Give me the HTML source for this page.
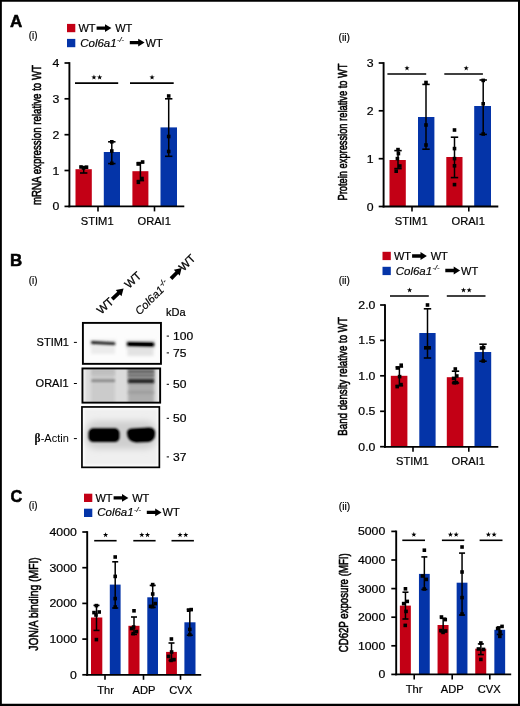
<!DOCTYPE html>
<html><head><meta charset="utf-8"><title>Figure</title>
<style>html,body{margin:0;padding:0;background:#fff}svg{display:block;will-change:transform}text{font-family:"Liberation Sans",sans-serif}</style></head>
<body>
<svg width="520" height="706" viewBox="0 0 520 706" font-family="'Liberation Sans', sans-serif" fill="#000">
<defs><filter id="b1" filterUnits="userSpaceOnUse" x="70" y="310" width="110" height="170"><feGaussianBlur stdDeviation="0.9"/></filter><filter id="b2" filterUnits="userSpaceOnUse" x="70" y="310" width="110" height="170"><feGaussianBlur stdDeviation="1.6"/></filter><filter id="b3" filterUnits="userSpaceOnUse" x="70" y="310" width="110" height="170"><feGaussianBlur stdDeviation="3"/></filter><clipPath id="c1"><rect x="82.5" y="322.5" width="78.7" height="41.5"/></clipPath><clipPath id="c2"><rect x="82.2" y="368.5" width="78.3" height="34.5"/></clipPath><clipPath id="c3"><rect x="81.8" y="406.7" width="78" height="60.8"/></clipPath></defs>
<rect x="0" y="0" width="520" height="706" fill="#fff"/>
<text transform="translate(10.00 27.20) scale(1.03 1)" font-size="16.5" text-anchor="start" font-weight="bold" stroke="#000" stroke-width="0.5">A</text>
<text transform="translate(10.00 265.70) scale(1.07 1)" font-size="15.8" text-anchor="start" font-weight="bold" stroke="#000" stroke-width="0.5">B</text>
<text transform="translate(10.40 501.70) scale(1.03 1)" font-size="15.8" text-anchor="start" font-weight="bold" stroke="#000" stroke-width="0.5">C</text>
<text x="28.80" y="39.10" font-size="10.5" text-anchor="start" textLength="8.6" lengthAdjust="spacingAndGlyphs" stroke="#000" stroke-width="0.2">(i)</text>
<text x="338.60" y="40.60" font-size="10.5" text-anchor="start" textLength="11.4" lengthAdjust="spacingAndGlyphs" stroke="#000" stroke-width="0.2">(ii)</text>
<text x="28.80" y="283.50" font-size="10.5" text-anchor="start" textLength="8.6" lengthAdjust="spacingAndGlyphs" stroke="#000" stroke-width="0.2">(i)</text>
<text x="338.80" y="284.00" font-size="10.5" text-anchor="start" textLength="11.0" lengthAdjust="spacingAndGlyphs" stroke="#000" stroke-width="0.2">(ii)</text>
<text x="28.80" y="509.30" font-size="10.5" text-anchor="start" textLength="8.6" lengthAdjust="spacingAndGlyphs" stroke="#000" stroke-width="0.2">(i)</text>
<text x="338.80" y="510.00" font-size="10.5" text-anchor="start" textLength="11.4" lengthAdjust="spacingAndGlyphs" stroke="#000" stroke-width="0.2">(ii)</text>
<rect x="67.00" y="23.90" width="8.30" height="8.30" fill="#c30015"/>
<rect x="67.00" y="38.90" width="8.30" height="8.30" fill="#0434a8"/>
<text x="78.40" y="31.90" font-size="11" text-anchor="start"  stroke="#000" stroke-width="0.2">WT</text>
<path d="M96.60 26.40H105.00V24.20L111.40 28.10L105.00 32.00V29.80H96.60Z" fill="#000"/>
<text x="115.20" y="31.90" font-size="11" text-anchor="start"  stroke="#000" stroke-width="0.2">WT</text>
<text x="80.20" y="46.60" font-size="11" font-style="italic" stroke="#000" stroke-width="0.15" textLength="36.5" lengthAdjust="spacingAndGlyphs">Col6a1</text>
<text x="117.00" y="42.20" font-size="7.5" font-style="italic" stroke="#000" stroke-width="0.15">-/-</text>
<path d="M129.80 40.90H138.20V38.70L144.60 42.60L138.20 46.50V44.30H129.80Z" fill="#000"/>
<text x="145.60" y="46.60" font-size="11" text-anchor="start"  stroke="#000" stroke-width="0.2">WT</text>
<rect x="382.50" y="251.80" width="8.30" height="8.30" fill="#c30015"/>
<rect x="382.50" y="266.80" width="8.30" height="8.30" fill="#0434a8"/>
<text x="393.90" y="259.80" font-size="11" text-anchor="start"  stroke="#000" stroke-width="0.2">WT</text>
<path d="M412.10 254.30H420.50V252.10L426.90 256.00L420.50 259.90V257.70H412.10Z" fill="#000"/>
<text x="430.70" y="259.80" font-size="11" text-anchor="start"  stroke="#000" stroke-width="0.2">WT</text>
<text x="395.70" y="274.50" font-size="11" font-style="italic" stroke="#000" stroke-width="0.15" textLength="36.5" lengthAdjust="spacingAndGlyphs">Col6a1</text>
<text x="432.50" y="270.10" font-size="7.5" font-style="italic" stroke="#000" stroke-width="0.15">-/-</text>
<path d="M445.30 268.80H453.70V266.60L460.10 270.50L453.70 274.40V272.20H445.30Z" fill="#000"/>
<text x="461.10" y="274.50" font-size="11" text-anchor="start"  stroke="#000" stroke-width="0.2">WT</text>
<rect x="84.00" y="493.70" width="8.30" height="8.30" fill="#c30015"/>
<rect x="84.00" y="508.70" width="8.30" height="8.30" fill="#0434a8"/>
<text x="95.40" y="501.70" font-size="11" text-anchor="start"  stroke="#000" stroke-width="0.2">WT</text>
<path d="M113.60 496.20H122.00V494.00L128.40 497.90L122.00 501.80V499.60H113.60Z" fill="#000"/>
<text x="132.20" y="501.70" font-size="11" text-anchor="start"  stroke="#000" stroke-width="0.2">WT</text>
<text x="97.20" y="516.40" font-size="11" font-style="italic" stroke="#000" stroke-width="0.15" textLength="36.5" lengthAdjust="spacingAndGlyphs">Col6a1</text>
<text x="134.00" y="512.00" font-size="7.5" font-style="italic" stroke="#000" stroke-width="0.15">-/-</text>
<path d="M146.80 510.70H155.20V508.50L161.60 512.40L155.20 516.30V514.10H146.80Z" fill="#000"/>
<text x="162.60" y="516.40" font-size="11" text-anchor="start"  stroke="#000" stroke-width="0.2">WT</text>
<rect x="75.50" y="169.20" width="16.30" height="37.20" fill="#c30015"/>
<rect x="103.80" y="152.00" width="16.20" height="54.40" fill="#0434a8"/>
<rect x="132.40" y="171.20" width="16.00" height="35.20" fill="#c30015"/>
<rect x="160.50" y="127.40" width="16.50" height="79.00" fill="#0434a8"/>
<line x1="69.40" y1="62.15" x2="69.40" y2="207.30" stroke="#000" stroke-width="1.9"/>
<line x1="68.45" y1="206.40" x2="184.30" y2="206.40" stroke="#000" stroke-width="1.8"/>
<line x1="64.50" y1="63.00" x2="69.40" y2="63.00" stroke="#000" stroke-width="1.7"/>
<text transform="translate(59.20 67.00) scale(1.17 1)" font-size="10.5" text-anchor="end"  stroke="#000" stroke-width="0.2">4</text>
<line x1="64.50" y1="98.80" x2="69.40" y2="98.80" stroke="#000" stroke-width="1.7"/>
<text transform="translate(59.20 102.80) scale(1.17 1)" font-size="10.5" text-anchor="end"  stroke="#000" stroke-width="0.2">3</text>
<line x1="64.50" y1="134.70" x2="69.40" y2="134.70" stroke="#000" stroke-width="1.7"/>
<text transform="translate(59.20 138.70) scale(1.17 1)" font-size="10.5" text-anchor="end"  stroke="#000" stroke-width="0.2">2</text>
<line x1="64.50" y1="170.50" x2="69.40" y2="170.50" stroke="#000" stroke-width="1.7"/>
<text transform="translate(59.20 174.50) scale(1.17 1)" font-size="10.5" text-anchor="end"  stroke="#000" stroke-width="0.2">1</text>
<line x1="64.50" y1="206.40" x2="69.40" y2="206.40" stroke="#000" stroke-width="1.7"/>
<text transform="translate(59.20 210.40) scale(1.17 1)" font-size="10.5" text-anchor="end"  stroke="#000" stroke-width="0.2">0</text>
<line x1="98.00" y1="206.40" x2="98.00" y2="211.40" stroke="#000" stroke-width="1.6"/>
<line x1="154.50" y1="206.40" x2="154.50" y2="211.40" stroke="#000" stroke-width="1.6"/>
<text x="97.20" y="224.50" font-size="11.15" text-anchor="middle"  stroke="#000" stroke-width="0.2">STIM1</text>
<text x="154.20" y="224.50" font-size="11.15" text-anchor="middle"  stroke="#000" stroke-width="0.2">ORAI1</text>
<line x1="83.70" y1="166.60" x2="83.70" y2="173.00" stroke="#000" stroke-width="1.5"/>
<line x1="80.00" y1="166.60" x2="87.40" y2="166.60" stroke="#000" stroke-width="1.6"/>
<line x1="80.00" y1="173.00" x2="87.40" y2="173.00" stroke="#000" stroke-width="1.6"/>
<rect x="79.20" y="165.20" width="3.60" height="3.60" fill="#000"/>
<rect x="84.70" y="165.40" width="3.60" height="3.60" fill="#000"/>
<rect x="81.70" y="166.20" width="3.60" height="3.60" fill="#000"/>
<line x1="111.80" y1="141.80" x2="111.80" y2="163.60" stroke="#000" stroke-width="1.5"/>
<line x1="108.10" y1="141.80" x2="115.50" y2="141.80" stroke="#000" stroke-width="1.6"/>
<line x1="108.10" y1="163.60" x2="115.50" y2="163.60" stroke="#000" stroke-width="1.6"/>
<rect x="110.00" y="140.00" width="3.60" height="3.60" fill="#000"/>
<rect x="110.00" y="149.20" width="3.60" height="3.60" fill="#000"/>
<rect x="110.00" y="161.50" width="3.60" height="3.60" fill="#000"/>
<line x1="140.40" y1="162.60" x2="140.40" y2="180.60" stroke="#000" stroke-width="1.5"/>
<line x1="136.70" y1="162.60" x2="144.10" y2="162.60" stroke="#000" stroke-width="1.6"/>
<line x1="136.70" y1="180.60" x2="144.10" y2="180.60" stroke="#000" stroke-width="1.6"/>
<rect x="140.80" y="160.20" width="3.60" height="3.60" fill="#000"/>
<rect x="136.40" y="162.20" width="3.60" height="3.60" fill="#000"/>
<rect x="140.20" y="176.70" width="3.60" height="3.60" fill="#000"/>
<rect x="136.60" y="180.50" width="3.60" height="3.60" fill="#000"/>
<line x1="168.70" y1="98.80" x2="168.70" y2="156.30" stroke="#000" stroke-width="1.5"/>
<line x1="165.00" y1="98.80" x2="172.40" y2="98.80" stroke="#000" stroke-width="1.6"/>
<line x1="165.00" y1="156.30" x2="172.40" y2="156.30" stroke="#000" stroke-width="1.6"/>
<rect x="166.90" y="94.20" width="3.60" height="3.60" fill="#000"/>
<rect x="166.90" y="134.70" width="3.60" height="3.60" fill="#000"/>
<rect x="166.90" y="149.70" width="3.60" height="3.60" fill="#000"/>
<text transform="translate(41.30 135.00) rotate(-90)" font-size="13.5" text-anchor="middle" stroke="#000" stroke-width="0.6" stroke-linejoin="round" textLength="140" lengthAdjust="spacingAndGlyphs">mRNA expression relative to WT</text>
<line x1="75.00" y1="83.10" x2="118.20" y2="83.10" stroke="#000" stroke-width="1.6"/>
<polygon points="93.95,74.60 94.60,76.46 96.57,76.50 95.00,77.69 95.57,79.57 93.95,78.45 92.33,79.57 92.90,77.69 91.33,76.50 93.30,76.46" fill="#000"/>
<polygon points="99.65,74.60 100.30,76.46 102.27,76.50 100.70,77.69 101.27,79.57 99.65,78.45 98.03,79.57 98.60,77.69 97.03,76.50 99.00,76.46" fill="#000"/>
<line x1="130.00" y1="83.10" x2="173.70" y2="83.10" stroke="#000" stroke-width="1.6"/>
<polygon points="152.05,74.60 152.70,76.46 154.67,76.50 153.10,77.69 153.67,79.57 152.05,78.45 150.43,79.57 151.00,77.69 149.43,76.50 151.40,76.46" fill="#000"/>
<rect x="389.50" y="160.00" width="16.30" height="46.50" fill="#c30015"/>
<rect x="418.00" y="117.00" width="16.40" height="89.50" fill="#0434a8"/>
<rect x="446.30" y="157.00" width="16.20" height="49.50" fill="#c30015"/>
<rect x="474.20" y="106.00" width="16.80" height="100.50" fill="#0434a8"/>
<line x1="383.60" y1="62.15" x2="383.60" y2="207.40" stroke="#000" stroke-width="1.9"/>
<line x1="382.65" y1="206.50" x2="498.30" y2="206.50" stroke="#000" stroke-width="1.8"/>
<line x1="378.70" y1="63.00" x2="383.60" y2="63.00" stroke="#000" stroke-width="1.7"/>
<text transform="translate(373.60 67.00) scale(1.17 1)" font-size="10.5" text-anchor="end"  stroke="#000" stroke-width="0.2">3</text>
<line x1="378.70" y1="110.80" x2="383.60" y2="110.80" stroke="#000" stroke-width="1.7"/>
<text transform="translate(373.60 114.80) scale(1.17 1)" font-size="10.5" text-anchor="end"  stroke="#000" stroke-width="0.2">2</text>
<line x1="378.70" y1="158.70" x2="383.60" y2="158.70" stroke="#000" stroke-width="1.7"/>
<text transform="translate(373.60 162.70) scale(1.17 1)" font-size="10.5" text-anchor="end"  stroke="#000" stroke-width="0.2">1</text>
<line x1="378.70" y1="206.50" x2="383.60" y2="206.50" stroke="#000" stroke-width="1.7"/>
<text transform="translate(373.60 210.50) scale(1.17 1)" font-size="10.5" text-anchor="end"  stroke="#000" stroke-width="0.2">0</text>
<line x1="412.00" y1="206.50" x2="412.00" y2="211.50" stroke="#000" stroke-width="1.6"/>
<line x1="468.80" y1="206.50" x2="468.80" y2="211.50" stroke="#000" stroke-width="1.6"/>
<text x="411.20" y="224.60" font-size="11.15" text-anchor="middle"  stroke="#000" stroke-width="0.2">STIM1</text>
<text x="468.20" y="224.60" font-size="11.15" text-anchor="middle"  stroke="#000" stroke-width="0.2">ORAI1</text>
<line x1="398.00" y1="150.60" x2="398.00" y2="168.60" stroke="#000" stroke-width="1.5"/>
<line x1="394.30" y1="150.60" x2="401.70" y2="150.60" stroke="#000" stroke-width="1.6"/>
<line x1="394.30" y1="168.60" x2="401.70" y2="168.60" stroke="#000" stroke-width="1.6"/>
<rect x="396.20" y="147.80" width="3.60" height="3.60" fill="#000"/>
<rect x="396.60" y="151.80" width="3.60" height="3.60" fill="#000"/>
<rect x="395.60" y="156.80" width="3.60" height="3.60" fill="#000"/>
<rect x="398.00" y="164.20" width="3.60" height="3.60" fill="#000"/>
<rect x="394.40" y="169.40" width="3.60" height="3.60" fill="#000"/>
<line x1="426.00" y1="84.40" x2="426.00" y2="149.20" stroke="#000" stroke-width="1.5"/>
<line x1="422.30" y1="84.40" x2="429.70" y2="84.40" stroke="#000" stroke-width="1.6"/>
<line x1="422.30" y1="149.20" x2="429.70" y2="149.20" stroke="#000" stroke-width="1.6"/>
<rect x="424.20" y="80.70" width="3.60" height="3.60" fill="#000"/>
<rect x="424.20" y="123.20" width="3.60" height="3.60" fill="#000"/>
<rect x="424.20" y="143.20" width="3.60" height="3.60" fill="#000"/>
<line x1="454.50" y1="137.20" x2="454.50" y2="177.60" stroke="#000" stroke-width="1.5"/>
<line x1="450.80" y1="137.20" x2="458.20" y2="137.20" stroke="#000" stroke-width="1.6"/>
<line x1="450.80" y1="177.60" x2="458.20" y2="177.60" stroke="#000" stroke-width="1.6"/>
<rect x="452.70" y="128.20" width="3.60" height="3.60" fill="#000"/>
<rect x="452.70" y="146.80" width="3.60" height="3.60" fill="#000"/>
<rect x="452.70" y="156.80" width="3.60" height="3.60" fill="#000"/>
<rect x="452.70" y="164.00" width="3.60" height="3.60" fill="#000"/>
<rect x="452.70" y="182.80" width="3.60" height="3.60" fill="#000"/>
<line x1="483.20" y1="80.00" x2="483.20" y2="134.40" stroke="#000" stroke-width="1.5"/>
<line x1="479.50" y1="80.00" x2="486.90" y2="80.00" stroke="#000" stroke-width="1.6"/>
<line x1="479.50" y1="134.40" x2="486.90" y2="134.40" stroke="#000" stroke-width="1.6"/>
<rect x="481.40" y="78.60" width="3.60" height="3.60" fill="#000"/>
<rect x="481.40" y="102.00" width="3.60" height="3.60" fill="#000"/>
<rect x="481.40" y="132.20" width="3.60" height="3.60" fill="#000"/>
<text transform="translate(347.00 132.00) rotate(-90)" font-size="13.5" text-anchor="middle" stroke="#000" stroke-width="0.6" stroke-linejoin="round" textLength="137" lengthAdjust="spacingAndGlyphs">Protein expression relative to WT</text>
<line x1="387.40" y1="74.00" x2="426.20" y2="74.00" stroke="#000" stroke-width="1.6"/>
<polygon points="407.00,65.50 407.65,67.36 409.62,67.40 408.05,68.59 408.62,70.47 407.00,69.35 405.38,70.47 405.95,68.59 404.38,67.40 406.35,67.36" fill="#000"/>
<line x1="444.30" y1="74.00" x2="482.90" y2="74.00" stroke="#000" stroke-width="1.6"/>
<polygon points="466.20,65.50 466.85,67.36 468.82,67.40 467.25,68.59 467.82,70.47 466.20,69.35 464.58,70.47 465.15,68.59 463.58,67.40 465.55,67.36" fill="#000"/>
<rect x="390.80" y="375.80" width="16.60" height="71.00" fill="#c30015"/>
<rect x="419.30" y="333.00" width="16.30" height="113.80" fill="#0434a8"/>
<rect x="446.80" y="377.20" width="16.50" height="69.60" fill="#c30015"/>
<rect x="474.50" y="352.00" width="16.70" height="94.80" fill="#0434a8"/>
<line x1="385.00" y1="304.15" x2="385.00" y2="447.70" stroke="#000" stroke-width="1.9"/>
<line x1="384.05" y1="446.80" x2="498.30" y2="446.80" stroke="#000" stroke-width="1.8"/>
<line x1="380.10" y1="305.00" x2="385.00" y2="305.00" stroke="#000" stroke-width="1.7"/>
<text transform="translate(375.40 309.00) scale(1.17 1)" font-size="10.5" text-anchor="end"  stroke="#000" stroke-width="0.2">2.0</text>
<line x1="380.10" y1="340.40" x2="385.00" y2="340.40" stroke="#000" stroke-width="1.7"/>
<text transform="translate(375.40 344.40) scale(1.17 1)" font-size="10.5" text-anchor="end"  stroke="#000" stroke-width="0.2">1.5</text>
<line x1="380.10" y1="375.80" x2="385.00" y2="375.80" stroke="#000" stroke-width="1.7"/>
<text transform="translate(375.40 379.80) scale(1.17 1)" font-size="10.5" text-anchor="end"  stroke="#000" stroke-width="0.2">1.0</text>
<line x1="380.10" y1="411.30" x2="385.00" y2="411.30" stroke="#000" stroke-width="1.7"/>
<text transform="translate(375.40 415.30) scale(1.17 1)" font-size="10.5" text-anchor="end"  stroke="#000" stroke-width="0.2">0.5</text>
<line x1="380.10" y1="446.70" x2="385.00" y2="446.70" stroke="#000" stroke-width="1.7"/>
<text transform="translate(375.40 450.70) scale(1.17 1)" font-size="10.5" text-anchor="end"  stroke="#000" stroke-width="0.2">0.0</text>
<line x1="413.00" y1="446.80" x2="413.00" y2="451.80" stroke="#000" stroke-width="1.6"/>
<line x1="468.80" y1="446.80" x2="468.80" y2="451.80" stroke="#000" stroke-width="1.6"/>
<text x="412.40" y="465.20" font-size="11.15" text-anchor="middle"  stroke="#000" stroke-width="0.2">STIM1</text>
<text x="468.30" y="465.20" font-size="11.15" text-anchor="middle"  stroke="#000" stroke-width="0.2">ORAI1</text>
<line x1="399.40" y1="367.00" x2="399.40" y2="385.60" stroke="#000" stroke-width="1.5"/>
<line x1="395.70" y1="367.00" x2="403.10" y2="367.00" stroke="#000" stroke-width="1.6"/>
<line x1="395.70" y1="385.60" x2="403.10" y2="385.60" stroke="#000" stroke-width="1.6"/>
<rect x="399.40" y="363.40" width="3.60" height="3.60" fill="#000"/>
<rect x="395.60" y="366.20" width="3.60" height="3.60" fill="#000"/>
<rect x="397.80" y="374.80" width="3.60" height="3.60" fill="#000"/>
<rect x="399.20" y="382.80" width="3.60" height="3.60" fill="#000"/>
<rect x="395.40" y="384.80" width="3.60" height="3.60" fill="#000"/>
<line x1="427.50" y1="308.80" x2="427.50" y2="358.00" stroke="#000" stroke-width="1.5"/>
<line x1="423.80" y1="308.80" x2="431.20" y2="308.80" stroke="#000" stroke-width="1.6"/>
<line x1="423.80" y1="358.00" x2="431.20" y2="358.00" stroke="#000" stroke-width="1.6"/>
<rect x="425.70" y="303.20" width="3.60" height="3.60" fill="#000"/>
<rect x="424.00" y="346.00" width="3.60" height="3.60" fill="#000"/>
<rect x="427.40" y="346.00" width="3.60" height="3.60" fill="#000"/>
<line x1="455.50" y1="371.20" x2="455.50" y2="383.00" stroke="#000" stroke-width="1.5"/>
<line x1="451.80" y1="371.20" x2="459.20" y2="371.20" stroke="#000" stroke-width="1.6"/>
<line x1="451.80" y1="383.00" x2="459.20" y2="383.00" stroke="#000" stroke-width="1.6"/>
<rect x="453.50" y="367.20" width="3.60" height="3.60" fill="#000"/>
<rect x="455.00" y="374.20" width="3.60" height="3.60" fill="#000"/>
<rect x="451.80" y="376.60" width="3.60" height="3.60" fill="#000"/>
<rect x="454.60" y="380.80" width="3.60" height="3.60" fill="#000"/>
<rect x="452.40" y="381.00" width="3.60" height="3.60" fill="#000"/>
<line x1="483.00" y1="344.20" x2="483.00" y2="361.20" stroke="#000" stroke-width="1.5"/>
<line x1="479.30" y1="344.20" x2="486.70" y2="344.20" stroke="#000" stroke-width="1.6"/>
<line x1="479.30" y1="361.20" x2="486.70" y2="361.20" stroke="#000" stroke-width="1.6"/>
<rect x="481.80" y="345.80" width="3.60" height="3.60" fill="#000"/>
<rect x="479.80" y="346.20" width="3.60" height="3.60" fill="#000"/>
<rect x="481.40" y="359.20" width="3.60" height="3.60" fill="#000"/>
<text transform="translate(347.40 376.40) rotate(-90)" font-size="13.5" text-anchor="middle" stroke="#000" stroke-width="0.6" stroke-linejoin="round" textLength="118.5" lengthAdjust="spacingAndGlyphs">Band density relative to WT</text>
<line x1="390.00" y1="296.00" x2="428.80" y2="296.00" stroke="#000" stroke-width="1.6"/>
<polygon points="409.60,287.50 410.25,289.36 412.22,289.40 410.65,290.59 411.22,292.47 409.60,291.35 407.98,292.47 408.55,290.59 406.98,289.40 408.95,289.36" fill="#000"/>
<line x1="446.80" y1="296.00" x2="485.50" y2="296.00" stroke="#000" stroke-width="1.6"/>
<polygon points="463.50,287.50 464.15,289.36 466.12,289.40 464.55,290.59 465.12,292.47 463.50,291.35 461.88,292.47 462.45,290.59 460.88,289.40 462.85,289.36" fill="#000"/>
<polygon points="469.20,287.50 469.85,289.36 471.82,289.40 470.25,290.59 470.82,292.47 469.20,291.35 467.58,292.47 468.15,290.59 466.58,289.40 468.55,289.36" fill="#000"/>
<rect x="91.00" y="617.50" width="11.30" height="57.30" fill="#c30015"/>
<rect x="109.80" y="584.60" width="10.80" height="90.20" fill="#0434a8"/>
<rect x="128.40" y="625.80" width="11.10" height="49.00" fill="#c30015"/>
<rect x="147.30" y="597.30" width="10.70" height="77.50" fill="#0434a8"/>
<rect x="166.10" y="651.90" width="10.80" height="22.90" fill="#c30015"/>
<rect x="184.40" y="622.30" width="11.10" height="52.50" fill="#0434a8"/>
<line x1="87.20" y1="531.15" x2="87.20" y2="675.70" stroke="#000" stroke-width="1.9"/>
<line x1="86.25" y1="674.80" x2="201.20" y2="674.80" stroke="#000" stroke-width="1.8"/>
<line x1="82.30" y1="532.00" x2="87.20" y2="532.00" stroke="#000" stroke-width="1.7"/>
<text transform="translate(76.80 536.00) scale(1.17 1)" font-size="10.5" text-anchor="end"  stroke="#000" stroke-width="0.2">4000</text>
<line x1="82.30" y1="567.70" x2="87.20" y2="567.70" stroke="#000" stroke-width="1.7"/>
<text transform="translate(76.80 571.70) scale(1.17 1)" font-size="10.5" text-anchor="end"  stroke="#000" stroke-width="0.2">3000</text>
<line x1="82.30" y1="603.40" x2="87.20" y2="603.40" stroke="#000" stroke-width="1.7"/>
<text transform="translate(76.80 607.40) scale(1.17 1)" font-size="10.5" text-anchor="end"  stroke="#000" stroke-width="0.2">2000</text>
<line x1="82.30" y1="639.10" x2="87.20" y2="639.10" stroke="#000" stroke-width="1.7"/>
<text transform="translate(76.80 643.10) scale(1.17 1)" font-size="10.5" text-anchor="end"  stroke="#000" stroke-width="0.2">1000</text>
<line x1="82.30" y1="674.80" x2="87.20" y2="674.80" stroke="#000" stroke-width="1.7"/>
<text transform="translate(76.80 678.80) scale(1.17 1)" font-size="10.5" text-anchor="end"  stroke="#000" stroke-width="0.2">0</text>
<line x1="105.00" y1="674.80" x2="105.00" y2="679.80" stroke="#000" stroke-width="1.6"/>
<line x1="143.50" y1="674.80" x2="143.50" y2="679.80" stroke="#000" stroke-width="1.6"/>
<line x1="180.50" y1="674.80" x2="180.50" y2="679.80" stroke="#000" stroke-width="1.6"/>
<text x="105.60" y="693.60" font-size="11.15" text-anchor="middle"  stroke="#000" stroke-width="0.2">Thr</text>
<text x="144.00" y="693.60" font-size="11.15" text-anchor="middle"  stroke="#000" stroke-width="0.2">ADP</text>
<text x="180.80" y="693.60" font-size="11.15" text-anchor="middle"  stroke="#000" stroke-width="0.2">CVX</text>
<line x1="96.50" y1="605.40" x2="96.50" y2="630.40" stroke="#000" stroke-width="1.5"/>
<line x1="93.50" y1="605.40" x2="99.50" y2="605.40" stroke="#000" stroke-width="1.6"/>
<line x1="93.50" y1="630.40" x2="99.50" y2="630.40" stroke="#000" stroke-width="1.6"/>
<rect x="94.60" y="603.80" width="3.60" height="3.60" fill="#000"/>
<rect x="92.20" y="610.80" width="3.60" height="3.60" fill="#000"/>
<rect x="97.40" y="610.20" width="3.60" height="3.60" fill="#000"/>
<rect x="94.20" y="613.20" width="3.60" height="3.60" fill="#000"/>
<rect x="94.60" y="637.80" width="3.60" height="3.60" fill="#000"/>
<line x1="115.20" y1="561.80" x2="115.20" y2="608.00" stroke="#000" stroke-width="1.5"/>
<line x1="112.20" y1="561.80" x2="118.20" y2="561.80" stroke="#000" stroke-width="1.6"/>
<line x1="112.20" y1="608.00" x2="118.20" y2="608.00" stroke="#000" stroke-width="1.6"/>
<rect x="113.40" y="555.20" width="3.60" height="3.60" fill="#000"/>
<rect x="113.40" y="574.60" width="3.60" height="3.60" fill="#000"/>
<rect x="113.40" y="596.80" width="3.60" height="3.60" fill="#000"/>
<rect x="113.40" y="605.20" width="3.60" height="3.60" fill="#000"/>
<line x1="134.00" y1="617.00" x2="134.00" y2="634.40" stroke="#000" stroke-width="1.5"/>
<line x1="131.00" y1="617.00" x2="137.00" y2="617.00" stroke="#000" stroke-width="1.6"/>
<line x1="131.00" y1="634.40" x2="137.00" y2="634.40" stroke="#000" stroke-width="1.6"/>
<rect x="132.20" y="609.00" width="3.60" height="3.60" fill="#000"/>
<rect x="131.80" y="625.20" width="3.60" height="3.60" fill="#000"/>
<rect x="129.80" y="626.80" width="3.60" height="3.60" fill="#000"/>
<rect x="134.60" y="629.80" width="3.60" height="3.60" fill="#000"/>
<rect x="131.40" y="631.80" width="3.60" height="3.60" fill="#000"/>
<line x1="152.70" y1="585.40" x2="152.70" y2="607.40" stroke="#000" stroke-width="1.5"/>
<line x1="149.70" y1="585.40" x2="155.70" y2="585.40" stroke="#000" stroke-width="1.6"/>
<line x1="149.70" y1="607.40" x2="155.70" y2="607.40" stroke="#000" stroke-width="1.6"/>
<rect x="150.90" y="582.80" width="3.60" height="3.60" fill="#000"/>
<rect x="150.90" y="592.20" width="3.60" height="3.60" fill="#000"/>
<rect x="153.40" y="601.80" width="3.60" height="3.60" fill="#000"/>
<rect x="148.80" y="604.60" width="3.60" height="3.60" fill="#000"/>
<rect x="150.80" y="604.80" width="3.60" height="3.60" fill="#000"/>
<line x1="171.50" y1="643.00" x2="171.50" y2="660.50" stroke="#000" stroke-width="1.5"/>
<line x1="168.50" y1="643.00" x2="174.50" y2="643.00" stroke="#000" stroke-width="1.6"/>
<line x1="168.50" y1="660.50" x2="174.50" y2="660.50" stroke="#000" stroke-width="1.6"/>
<rect x="169.60" y="637.20" width="3.60" height="3.60" fill="#000"/>
<rect x="169.80" y="650.20" width="3.60" height="3.60" fill="#000"/>
<rect x="166.80" y="654.60" width="3.60" height="3.60" fill="#000"/>
<rect x="172.20" y="657.80" width="3.60" height="3.60" fill="#000"/>
<rect x="169.20" y="658.60" width="3.60" height="3.60" fill="#000"/>
<line x1="189.80" y1="609.40" x2="189.80" y2="635.20" stroke="#000" stroke-width="1.5"/>
<line x1="186.80" y1="609.40" x2="192.80" y2="609.40" stroke="#000" stroke-width="1.6"/>
<line x1="186.80" y1="635.20" x2="192.80" y2="635.20" stroke="#000" stroke-width="1.6"/>
<rect x="189.40" y="607.80" width="3.60" height="3.60" fill="#000"/>
<rect x="186.80" y="608.40" width="3.60" height="3.60" fill="#000"/>
<rect x="188.00" y="627.60" width="3.60" height="3.60" fill="#000"/>
<rect x="188.00" y="632.80" width="3.60" height="3.60" fill="#000"/>
<text transform="translate(38.20 604.00) rotate(-90)" font-size="13.5" text-anchor="middle" stroke="#000" stroke-width="0.6" stroke-linejoin="round" textLength="93.5" lengthAdjust="spacingAndGlyphs">JON/A binding (MFI)</text>
<line x1="94.20" y1="540.70" x2="116.60" y2="540.70" stroke="#000" stroke-width="1.6"/>
<polygon points="105.60,532.20 106.25,534.06 108.22,534.10 106.65,535.29 107.22,537.17 105.60,536.05 103.98,537.17 104.55,535.29 102.98,534.10 104.95,534.06" fill="#000"/>
<line x1="133.30" y1="540.70" x2="155.60" y2="540.70" stroke="#000" stroke-width="1.6"/>
<polygon points="141.80,532.20 142.45,534.06 144.42,534.10 142.85,535.29 143.42,537.17 141.80,536.05 140.18,537.17 140.75,535.29 139.18,534.10 141.15,534.06" fill="#000"/>
<polygon points="147.50,532.20 148.15,534.06 150.12,534.10 148.55,535.29 149.12,537.17 147.50,536.05 145.88,537.17 146.45,535.29 144.88,534.10 146.85,534.06" fill="#000"/>
<line x1="171.50" y1="540.70" x2="193.90" y2="540.70" stroke="#000" stroke-width="1.6"/>
<polygon points="180.05,532.20 180.70,534.06 182.67,534.10 181.10,535.29 181.67,537.17 180.05,536.05 178.43,537.17 179.00,535.29 177.43,534.10 179.40,534.06" fill="#000"/>
<polygon points="185.75,532.20 186.40,534.06 188.37,534.10 186.80,535.29 187.37,537.17 185.75,536.05 184.13,537.17 184.70,535.29 183.13,534.10 185.10,534.06" fill="#000"/>
<rect x="399.85" y="605.60" width="11.00" height="68.80" fill="#c30015"/>
<rect x="418.95" y="573.90" width="10.80" height="100.50" fill="#0434a8"/>
<rect x="437.55" y="625.00" width="11.00" height="49.40" fill="#c30015"/>
<rect x="456.65" y="582.70" width="10.80" height="91.70" fill="#0434a8"/>
<rect x="475.25" y="648.70" width="11.00" height="25.70" fill="#c30015"/>
<rect x="494.35" y="629.80" width="10.80" height="44.60" fill="#0434a8"/>
<line x1="396.20" y1="530.55" x2="396.20" y2="675.30" stroke="#000" stroke-width="1.9"/>
<line x1="395.25" y1="674.40" x2="511.20" y2="674.40" stroke="#000" stroke-width="1.8"/>
<line x1="391.30" y1="531.40" x2="396.20" y2="531.40" stroke="#000" stroke-width="1.7"/>
<text transform="translate(385.20 535.40) scale(1.17 1)" font-size="10.5" text-anchor="end"  stroke="#000" stroke-width="0.2">5000</text>
<line x1="391.30" y1="560.00" x2="396.20" y2="560.00" stroke="#000" stroke-width="1.7"/>
<text transform="translate(385.20 564.00) scale(1.17 1)" font-size="10.5" text-anchor="end"  stroke="#000" stroke-width="0.2">4000</text>
<line x1="391.30" y1="588.60" x2="396.20" y2="588.60" stroke="#000" stroke-width="1.7"/>
<text transform="translate(385.20 592.60) scale(1.17 1)" font-size="10.5" text-anchor="end"  stroke="#000" stroke-width="0.2">3000</text>
<line x1="391.30" y1="617.20" x2="396.20" y2="617.20" stroke="#000" stroke-width="1.7"/>
<text transform="translate(385.20 621.20) scale(1.17 1)" font-size="10.5" text-anchor="end"  stroke="#000" stroke-width="0.2">2000</text>
<line x1="391.30" y1="645.80" x2="396.20" y2="645.80" stroke="#000" stroke-width="1.7"/>
<text transform="translate(385.20 649.80) scale(1.17 1)" font-size="10.5" text-anchor="end"  stroke="#000" stroke-width="0.2">1000</text>
<line x1="391.30" y1="674.40" x2="396.20" y2="674.40" stroke="#000" stroke-width="1.7"/>
<text transform="translate(385.20 678.40) scale(1.17 1)" font-size="10.5" text-anchor="end"  stroke="#000" stroke-width="0.2">0</text>
<line x1="414.20" y1="674.40" x2="414.20" y2="679.40" stroke="#000" stroke-width="1.6"/>
<line x1="452.20" y1="674.40" x2="452.20" y2="679.40" stroke="#000" stroke-width="1.6"/>
<line x1="489.80" y1="674.40" x2="489.80" y2="679.40" stroke="#000" stroke-width="1.6"/>
<text x="414.00" y="693.20" font-size="11.15" text-anchor="middle"  stroke="#000" stroke-width="0.2">Thr</text>
<text x="452.30" y="693.20" font-size="11.15" text-anchor="middle"  stroke="#000" stroke-width="0.2">ADP</text>
<text x="489.30" y="693.20" font-size="11.15" text-anchor="middle"  stroke="#000" stroke-width="0.2">CVX</text>
<line x1="405.45" y1="592.20" x2="405.45" y2="619.00" stroke="#000" stroke-width="1.5"/>
<line x1="402.45" y1="592.20" x2="408.45" y2="592.20" stroke="#000" stroke-width="1.6"/>
<line x1="402.45" y1="619.00" x2="408.45" y2="619.00" stroke="#000" stroke-width="1.6"/>
<rect x="403.65" y="587.00" width="3.60" height="3.60" fill="#000"/>
<rect x="405.45" y="599.60" width="3.60" height="3.60" fill="#000"/>
<rect x="401.85" y="601.80" width="3.60" height="3.60" fill="#000"/>
<rect x="404.25" y="609.60" width="3.60" height="3.60" fill="#000"/>
<rect x="403.45" y="623.60" width="3.60" height="3.60" fill="#000"/>
<line x1="424.35" y1="556.90" x2="424.35" y2="589.50" stroke="#000" stroke-width="1.5"/>
<line x1="421.35" y1="556.90" x2="427.35" y2="556.90" stroke="#000" stroke-width="1.6"/>
<line x1="421.35" y1="589.50" x2="427.35" y2="589.50" stroke="#000" stroke-width="1.6"/>
<rect x="422.55" y="548.40" width="3.60" height="3.60" fill="#000"/>
<rect x="420.65" y="574.20" width="3.60" height="3.60" fill="#000"/>
<rect x="424.45" y="577.60" width="3.60" height="3.60" fill="#000"/>
<rect x="422.45" y="587.20" width="3.60" height="3.60" fill="#000"/>
<line x1="443.15" y1="618.30" x2="443.15" y2="631.70" stroke="#000" stroke-width="1.5"/>
<line x1="440.15" y1="618.30" x2="446.15" y2="618.30" stroke="#000" stroke-width="1.6"/>
<line x1="440.15" y1="631.70" x2="446.15" y2="631.70" stroke="#000" stroke-width="1.6"/>
<rect x="439.65" y="615.20" width="3.60" height="3.60" fill="#000"/>
<rect x="443.45" y="617.80" width="3.60" height="3.60" fill="#000"/>
<rect x="439.05" y="628.80" width="3.60" height="3.60" fill="#000"/>
<rect x="443.85" y="629.20" width="3.60" height="3.60" fill="#000"/>
<rect x="441.25" y="630.60" width="3.60" height="3.60" fill="#000"/>
<line x1="462.05" y1="553.10" x2="462.05" y2="615.00" stroke="#000" stroke-width="1.5"/>
<line x1="459.05" y1="553.10" x2="465.05" y2="553.10" stroke="#000" stroke-width="1.6"/>
<line x1="459.05" y1="615.00" x2="465.05" y2="615.00" stroke="#000" stroke-width="1.6"/>
<rect x="460.25" y="545.20" width="3.60" height="3.60" fill="#000"/>
<rect x="460.25" y="570.20" width="3.60" height="3.60" fill="#000"/>
<rect x="460.25" y="595.80" width="3.60" height="3.60" fill="#000"/>
<rect x="460.25" y="612.20" width="3.60" height="3.60" fill="#000"/>
<line x1="480.85" y1="643.90" x2="480.85" y2="654.60" stroke="#000" stroke-width="1.5"/>
<line x1="477.85" y1="643.90" x2="483.85" y2="643.90" stroke="#000" stroke-width="1.6"/>
<line x1="477.85" y1="654.60" x2="483.85" y2="654.60" stroke="#000" stroke-width="1.6"/>
<rect x="479.05" y="641.20" width="3.60" height="3.60" fill="#000"/>
<rect x="476.65" y="647.20" width="3.60" height="3.60" fill="#000"/>
<rect x="481.65" y="647.60" width="3.60" height="3.60" fill="#000"/>
<rect x="479.05" y="657.60" width="3.60" height="3.60" fill="#000"/>
<line x1="499.75" y1="626.90" x2="499.75" y2="634.40" stroke="#000" stroke-width="1.5"/>
<line x1="496.75" y1="626.90" x2="502.75" y2="626.90" stroke="#000" stroke-width="1.6"/>
<line x1="496.75" y1="634.40" x2="502.75" y2="634.40" stroke="#000" stroke-width="1.6"/>
<rect x="500.25" y="624.60" width="3.60" height="3.60" fill="#000"/>
<rect x="495.85" y="626.80" width="3.60" height="3.60" fill="#000"/>
<rect x="498.25" y="630.20" width="3.60" height="3.60" fill="#000"/>
<rect x="498.05" y="634.60" width="3.60" height="3.60" fill="#000"/>
<text transform="translate(347.90 602.80) rotate(-90)" font-size="13.5" text-anchor="middle" stroke="#000" stroke-width="0.6" stroke-linejoin="round" textLength="99" lengthAdjust="spacingAndGlyphs">CD62P exposure (MFI)</text>
<line x1="402.30" y1="540.30" x2="425.00" y2="540.30" stroke="#000" stroke-width="1.6"/>
<polygon points="413.85,531.80 414.50,533.66 416.47,533.70 414.90,534.89 415.47,536.77 413.85,535.65 412.23,536.77 412.80,534.89 411.23,533.70 413.20,533.66" fill="#000"/>
<line x1="441.90" y1="540.30" x2="464.30" y2="540.30" stroke="#000" stroke-width="1.6"/>
<polygon points="450.45,531.80 451.10,533.66 453.07,533.70 451.50,534.89 452.07,536.77 450.45,535.65 448.83,536.77 449.40,534.89 447.83,533.70 449.80,533.66" fill="#000"/>
<polygon points="456.15,531.80 456.80,533.66 458.77,533.70 457.20,534.89 457.77,536.77 456.15,535.65 454.53,536.77 455.10,534.89 453.53,533.70 455.50,533.66" fill="#000"/>
<line x1="479.60" y1="540.30" x2="502.50" y2="540.30" stroke="#000" stroke-width="1.6"/>
<polygon points="488.40,531.80 489.05,533.66 491.02,533.70 489.45,534.89 490.02,536.77 488.40,535.65 486.78,536.77 487.35,534.89 485.78,533.70 487.75,533.66" fill="#000"/>
<polygon points="494.10,531.80 494.75,533.66 496.72,533.70 495.15,534.89 495.72,536.77 494.10,535.65 492.48,536.77 493.05,534.89 491.48,533.70 493.45,533.66" fill="#000"/>
<rect x="82.5" y="322.5" width="78.7" height="41.5" fill="#fcfcfc"/>
<g clip-path="url(#c1)">
<rect x="91" y="345" width="24" height="9" fill="#ececec" filter="url(#b2)"/>
<rect x="127.5" y="347" width="26" height="9" fill="#e3e3e3" filter="url(#b2)"/>
<rect x="90" y="339.5" width="26" height="6.5" fill="#e8e8e8" filter="url(#b2)"/>
<rect x="126" y="340.5" width="29" height="7.5" fill="#d0d0d0" filter="url(#b2)"/>
<path d="M92.4 342.5 L114 343.6" stroke="#242424" stroke-width="2.8" stroke-linecap="round" fill="none" filter="url(#b1)"/>
<path d="M128.8 344.0 L152.4 344.5" stroke="#000" stroke-width="4.2" stroke-linecap="round" fill="none" filter="url(#b1)"/>
<path d="M130 344.1 L151.2 344.5" stroke="#000" stroke-width="2.4" stroke-linecap="round" fill="none"/>
</g>
<rect x="82.90" y="322.90" width="78.05" height="40.95" fill="none" stroke="#000" stroke-width="1.9"/>
<rect x="82.2" y="368.5" width="78.3" height="34.5" fill="#f4f4f4"/>
<g clip-path="url(#c2)">
<rect x="85.2" y="366" width="72.6" height="40" fill="#dbdbdb" filter="url(#b1)"/>
<rect x="91" y="362" width="24" height="48" fill="#cbcbcb" filter="url(#b2)"/>
<rect x="128" y="362" width="26" height="48" fill="#adadad" filter="url(#b2)"/>
<rect x="128" y="366" width="26" height="18" fill="#999" filter="url(#b2)"/>
<rect x="91.5" y="379.4" width="23.4" height="2.6" fill="#868686" filter="url(#b1)"/>
<rect x="91.5" y="370.6" width="23.4" height="1.8" fill="#b4b4b4" filter="url(#b1)"/>
<rect x="91.5" y="373.4" width="23.4" height="1.6" fill="#bababa" filter="url(#b1)"/>
<rect x="128.3" y="370.6" width="25.6" height="2.2" fill="#565656" filter="url(#b1)"/>
<rect x="128.3" y="374.4" width="25.6" height="2.0" fill="#686868" filter="url(#b1)"/>
<rect x="128.3" y="379.4" width="25.6" height="3.4" fill="#161616" filter="url(#b1)"/>
<rect x="128.3" y="391.4" width="25.6" height="2.0" fill="#959595" filter="url(#b2)"/>
</g>
<rect x="82.45" y="368.45" width="77.70" height="34.20" fill="none" stroke="#000" stroke-width="1.9"/>
<rect x="81.8" y="406.7" width="78" height="60.8" fill="#fcfcfc"/>
<g clip-path="url(#c3)">
<rect x="84.6" y="409.2" width="72.4" height="55.6" fill="#efefef" filter="url(#b1)"/>
<rect x="86" y="421" width="70" height="28" rx="10" fill="#cfcfcf" filter="url(#b3)"/>
<rect x="88.4" y="428.2" width="31.2" height="13.9" rx="5" fill="#000" filter="url(#b1)"/>
<path d="M126.9 433 Q126.9 428.8 132.4 428.6 L148.6 427.4 Q155.2 427.2 155.2 433 Q155.2 441.2 148.6 441.9 L136 442.6 Q127.1 441.4 126.9 433Z" fill="#000" filter="url(#b1)"/>
<rect x="90.0" y="429.6" width="28" height="11" rx="4" fill="#000"/>
<path d="M128.8 433 Q128.8 430 132.6 429.8 L148.4 428.8 Q153.6 428.8 153.6 433 Q153.6 440.0 148.4 440.6 L136 441.2 Q128.9 440.0 128.8 433Z" fill="#000"/>
</g>
<rect x="81.95" y="406.95" width="77.40" height="60.40" fill="none" stroke="#000" stroke-width="1.7"/>
<text x="36.60" y="345.80" font-size="11" text-anchor="start"  stroke="#000" stroke-width="0.2">STIM1</text>
<text x="35.60" y="386.80" font-size="11" text-anchor="start"  stroke="#000" stroke-width="0.2">ORAI1</text>
<text x="34.6" y="441.6" font-size="11"><tspan font-family="'Liberation Serif', serif" font-weight="bold" font-size="11.5">&#946;</tspan>-Actin</text>
<line x1="73.90" y1="342.40" x2="76.90" y2="342.40" stroke="#000" stroke-width="1.0"/>
<line x1="73.90" y1="383.50" x2="76.90" y2="383.50" stroke="#000" stroke-width="1.0"/>
<line x1="73.90" y1="438.60" x2="76.90" y2="438.60" stroke="#000" stroke-width="1.0"/>
<text x="166.00" y="315.60" font-size="11" text-anchor="start"  stroke="#000" stroke-width="0.2">kDa</text>
<line x1="166.70" y1="336.10" x2="169.00" y2="336.10" stroke="#000" stroke-width="1.0"/>
<text transform="translate(173.00 339.80) scale(1.15 1)" font-size="10.5" text-anchor="start"  stroke="#000" stroke-width="0.2">100</text>
<line x1="166.70" y1="352.90" x2="169.00" y2="352.90" stroke="#000" stroke-width="1.0"/>
<text transform="translate(173.00 356.60) scale(1.15 1)" font-size="10.5" text-anchor="start"  stroke="#000" stroke-width="0.2">75</text>
<line x1="166.70" y1="384.30" x2="169.00" y2="384.30" stroke="#000" stroke-width="1.0"/>
<text transform="translate(173.00 388.00) scale(1.15 1)" font-size="10.5" text-anchor="start"  stroke="#000" stroke-width="0.2">50</text>
<line x1="166.70" y1="418.30" x2="169.00" y2="418.30" stroke="#000" stroke-width="1.0"/>
<text transform="translate(173.00 422.00) scale(1.15 1)" font-size="10.5" text-anchor="start"  stroke="#000" stroke-width="0.2">50</text>
<line x1="166.70" y1="456.90" x2="169.00" y2="456.90" stroke="#000" stroke-width="1.0"/>
<text transform="translate(173.00 460.60) scale(1.15 1)" font-size="10.5" text-anchor="start"  stroke="#000" stroke-width="0.2">37</text>
<g transform="translate(101.3 314.8) rotate(-43)">
<text x="0.00" y="0.00" font-size="11.5" text-anchor="start" stroke="#000" stroke-width="0.25">WT</text>
<path d="M18.60 -5.90H27.40V-8.20L34.20 -4.00L27.40 0.20V-2.10H18.60Z" fill="#000"/>
<text x="37.80" y="0.00" font-size="11.5" text-anchor="start" stroke="#000" stroke-width="0.25">WT</text>
</g>
<g transform="translate(139.6 315.6) rotate(-45)">
<text x="0" y="0" font-size="11" font-style="italic" stroke="#000" stroke-width="0.15" textLength="35.5" lengthAdjust="spacingAndGlyphs">Col6a1</text>
<text x="35.8" y="-4.6" font-size="7.5" font-style="italic" stroke="#000" stroke-width="0.2">-/-</text>
<path d="M48.40 -5.90H56.60V-8.20L63.40 -4.00L56.60 0.20V-2.10H48.40Z" fill="#000"/>
<text x="62.20" y="0.00" font-size="11.5" text-anchor="start" stroke="#000" stroke-width="0.25">WT</text>
</g>
<path fill-rule="evenodd" fill="#000" d="M0 0H520V706H0Z M1.85 1.7H518V703.8H1.85Z"/>
</svg>
</body></html>
